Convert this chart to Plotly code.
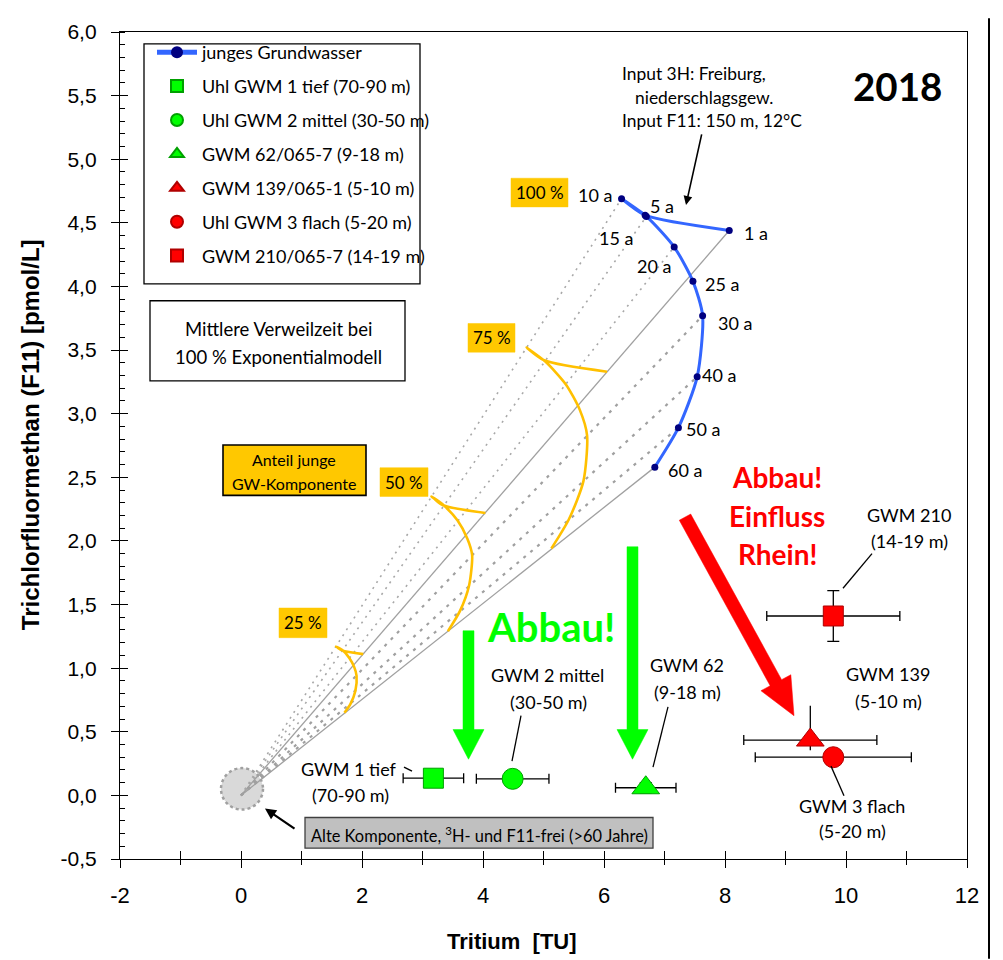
import plotly.graph_objects as go

# ---------------- data ----------------
ages = ["1 a", "5 a", "10 a", "15 a", "20 a", "25 a", "30 a", "40 a", "50 a", "60 a"]
young_tritium = [8.07, 6.68, 6.29, 6.70, 7.16, 7.47, 7.63, 7.54, 7.23, 6.84]
young_f11 = [4.44, 4.56, 4.69, 4.55, 4.31, 4.04, 3.77, 3.29, 2.89, 2.58]

mix75_tritium = [6.05, 5.01, 4.72, 5.03, 5.37, 5.60, 5.72, 5.66, 5.42, 5.13]
mix75_f11 = [3.33, 3.42, 3.52, 3.41, 3.23, 3.03, 2.83, 2.47, 2.17, 1.94]
mix50_tritium = [4.04, 3.34, 3.15, 3.35, 3.58, 3.74, 3.82, 3.77, 3.62, 3.42]
mix50_f11 = [2.22, 2.28, 2.35, 2.28, 2.16, 2.02, 1.89, 1.65, 1.45, 1.29]
mix25_tritium = [2.02, 1.67, 1.57, 1.68, 1.79, 1.87, 1.91, 1.89, 1.81, 1.71]
mix25_f11 = [1.11, 1.14, 1.17, 1.14, 1.08, 1.01, 0.94, 0.82, 0.72, 0.65]

old_tritium = 0.0
old_f11 = 0.0

sample_names = ["Uhl GWM 1 tief (70-90 m)", "Uhl GWM 2 mittel (30-50 m)",
                "GWM 62/065-7 (9-18 m)", "GWM 139/065-1 (5-10 m)",
                "Uhl GWM 3 flach (5-20 m)", "GWM 210/065-7 (14-19 m)"]
sample_tritium = [3.18, 4.49, 6.69, 9.41, 9.79, 9.79]
sample_f11 = [0.135, 0.13, 0.06, 0.435, 0.30, 1.41]
sample_tritium_err = [0.50, 0.60, 0.50, 1.10, 1.29, 1.10]
sample_f11_err_plus = [0.0, 0.0, 0.04, 0.27, 0.0, 0.20]
sample_f11_err_minus = [0.0, 0.0, 0.04, 0.08, 0.0, 0.20]
sample_symbols = ["square", "circle", "triangle-up", "triangle-up", "circle", "square"]
sample_fill = ["#00FF00", "#00FF00", "#00FF00", "#FF0000", "#FF0000", "#FF0000"]
sample_edge = ["#00A000", "#00A000", "#00A000", "#B00000", "#B00000", "#B00000"]
sample_size = [20, 21, 24, 24, 21, 20]

x_tickvals = [-2, 0, 2, 4, 6, 8, 10, 12]
x_ticktext = ["-2", "0", "2", "4", "6", "8", "10", "12"]
y_tickvals = [-0.5, 0.0, 0.5, 1.0, 1.5, 2.0, 2.5, 3.0, 3.5, 4.0, 4.5, 5.0, 5.5, 6.0]
y_ticktext = ["-0,5", "0,0", "0,5", "1,0", "1,5", "2,0", "2,5", "3,0", "3,5",
              "4,0", "4,5", "5,0", "5,5", "6,0"]

# ---------------- geometry helpers (page pixel -> data, for annotations) ----------------
OFF = 8                     # default body margin of the html page
W, H = 1003 - OFF, 960 - OFF
PL, PR, PT, PB = 120, 967, 22, 859   # plot area in page pixels
XR = (-2, 12)
YR = (-0.5, 6.0)


def X(px):
    return XR[0] + (px - PL) / (PR - PL) * (XR[1] - XR[0])


def Y(py):
    return YR[1] - (py - PT) / (PB - PT) * (YR[1] - YR[0])


def PX(px):
    return (px - PL) / (PR - PL)


def PY(py):
    return (PB - py) / (PB - PT)


TXT = "Lato, Carlito, Calibri, sans-serif"
NARROW = "Liberation Sans Narrow, Arial Narrow, Liberation Sans, Arial"
fig = go.Figure()

# mixing lines old -> young
solid_idx = [0, 9]
dot_idx = [2, 3, 4]
dash_idx = [6, 7, 8]
for i in solid_idx:
    fig.add_trace(go.Scatter(x=[old_tritium, young_tritium[i]], y=[old_f11, young_f11[i]],
                             mode="lines", line=dict(color="#A0A0A0", width=1.3),
                             showlegend=False, hoverinfo="skip"))
for i in dot_idx:
    fig.add_trace(go.Scatter(x=[old_tritium, young_tritium[i]], y=[old_f11, young_f11[i]],
                             mode="lines", line=dict(color="#A8A8A8", width=1.6, dash="2px,5px"),
                             showlegend=False, hoverinfo="skip"))
for i in dash_idx:
    fig.add_trace(go.Scatter(x=[old_tritium, young_tritium[i]], y=[old_f11, young_f11[i]],
                             mode="lines", line=dict(color="#A0A0A0", width=2.2, dash="3px,6px"),
                             showlegend=False, hoverinfo="skip"))

# mixing curves
for mx, my in [(mix25_tritium, mix25_f11), (mix50_tritium, mix50_f11), (mix75_tritium, mix75_f11)]:
    fig.add_trace(go.Scatter(x=mx, y=my, mode="lines",
                             line=dict(color="#FFC000", width=2.6, shape="spline", smoothing=0.7),
                             showlegend=False, hoverinfo="skip"))

# young groundwater curve
fig.add_trace(go.Scatter(x=young_tritium, y=young_f11, mode="lines+markers",
                         name="junges Grundwasser", legendgroup="g0",
                         line=dict(color="#3366FF", width=3, shape="spline", smoothing=0.7),
                         marker=dict(color="#000080", size=7)))

# samples
for k in range(len(sample_names)):
    has_y = sample_f11_err_plus[k] > 0
    fig.add_trace(go.Scatter(
        x=[sample_tritium[k]], y=[sample_f11[k]], mode="markers",
        name=sample_names[k], legendgroup="g%d" % (k + 1),
        marker=dict(symbol=sample_symbols[k], size=sample_size[k], color=sample_fill[k],
                    line=dict(color=sample_edge[k], width=1)),
        error_x=dict(type="data", array=[sample_tritium_err[k]], color="black",
                     thickness=1.3, width=5),
        error_y=dict(type="data", symmetric=False, array=[sample_f11_err_plus[k]],
                     arrayminus=[sample_f11_err_minus[k]], color="black",
                     thickness=1.3, width=0 if k == 3 else 6, visible=has_y),
    ))

# empty trace on overlay axes (inside "cross" ticks)
fig.add_trace(go.Scatter(x=[], y=[], xaxis="x2", yaxis="y2", showlegend=False, hoverinfo="skip"))

shapes = []
annotations = []


def rect(x0, y0, x1, y1, fill="rgba(0,0,0,0)", line="black", lw=1.3, layer="above"):
    shapes.append(dict(type="rect", xref="x", yref="y", x0=X(x0), x1=X(x1), y0=Y(y0), y1=Y(y1),
                       fillcolor=fill, line=dict(color=line, width=lw), layer=layer))


def seg(x0, y0, x1, y1, color="black", lw=1.3):
    shapes.append(dict(type="line", xref="x", yref="y", x0=X(x0), x1=X(x1), y0=Y(y0), y1=Y(y1),
                       line=dict(color=color, width=lw)))


def text(t, px, py, size=18, color="black", bold=False, xanchor="center", family=TXT):
    if bold:
        t = "<b>" + t + "</b>"
    annotations.append(dict(text=t, x=X(px), y=Y(py), xref="x", yref="y", showarrow=False,
                            xanchor=xanchor, yanchor="middle",
                            font=dict(family=family, size=size, color=color)))


def arrow_poly(tx, ty, hx, hy, shaft_hw, head_hw, head_len, color):
    dxp, dyp = hx - tx, hy - ty
    ln = (dxp ** 2 + dyp ** 2) ** 0.5
    ux, uy = dxp / ln, dyp / ln
    nx, ny = -uy, ux
    bx, by = hx - ux * head_len, hy - uy * head_len
    pts = [(tx + nx * shaft_hw, ty + ny * shaft_hw),
           (bx + nx * shaft_hw, by + ny * shaft_hw),
           (bx + nx * head_hw, by + ny * head_hw),
           (hx, hy),
           (bx - nx * head_hw, by - ny * head_hw),
           (bx - nx * shaft_hw, by - ny * shaft_hw),
           (tx - nx * shaft_hw, ty - ny * shaft_hw)]
    path = "M " + " L ".join("%.5f,%.5f" % (X(a), Y(b)) for a, b in pts) + " Z"
    shapes.append(dict(type="path", xref="x", yref="y", path=path, fillcolor=color,
                       line=dict(color=color, width=0.5), layer="above"))


# old component circle
shapes.append(dict(type="circle", xref="x", yref="y", x0=X(221), x1=X(263), y0=Y(809), y1=Y(767),
                   fillcolor="#D9D9D9", line=dict(color="#A0A0A0", width=2.5, dash="dot"),
                   layer="below"))

# legend frame
rect(144, 34, 420, 277)

# boxes
rect(150, 294, 405, 375)
text("Mittlere Verweilzeit bei", 278, 323, size=18.5)
text("100 % Exponentialmodell", 278, 351, size=18.5)

rect(223, 440, 366, 491, fill="#FFC800", line="black", lw=1.6)
text("Anteil junge", 294, 455, size=16)
text("GW-Komponente", 294, 479, size=16)

for lab, x0, y0, x1, y1 in [("100 %", 511, 170, 568, 199), ("75 %", 468, 317, 515, 346),
                            ("50 %", 380, 463, 428, 492), ("25 %", 279, 605, 327, 635)]:
    rect(x0, y0, x1, y1, fill="#FFC800", line="#FFC800", lw=0.5)
    text(lab, (x0 + x1) / 2, (y0 + y1) / 2, size=17)

rect(305, 817, 653, 848, fill="#C0C0C0", line="#404040", lw=1.3)
text("Alte Komponente, <sup>3</sup>H- und F11-frei (>60 Jahre)", 479, 834, size=16.4)

# age labels
age_pos = {"10 a": (595, 187), "5 a": (662, 198), "1 a": (756, 225), "15 a": (616, 230),
           "20 a": (654, 259), "25 a": (722, 277), "30 a": (735, 317), "40 a": (719, 369),
           "50 a": (703, 424), "60 a": (685, 465)}
for lab, (px, py) in age_pos.items():
    text(lab, px, py, size=18)

# input text
text("Input 3H: Freiburg,", 620, 64, size=17.4, xanchor="left")
text("niederschlagsgew.", 633, 88, size=17.4, xanchor="left")
text("Input F11: 150 m, 12°C", 620, 112, size=17.4, xanchor="left")
annotations.append(dict(x=X(686), y=Y(197), xref="x", yref="y", ax=16, ay=-72, text="",
                        showarrow=True, arrowhead=2, arrowsize=1.1, arrowwidth=1.6,
                        arrowcolor="black"))

text("2018", 897, 77, size=38.5, bold=True)

# sample labels
text("GWM 1 tief", 349, 768)
text("(70-90 m)", 350, 794)
seg(404, 766, 412, 770)
text("GWM 2 mittel", 547, 673)
text("(30-50 m)", 548, 700)
seg(521, 714, 512, 760)
text("GWM 62", 687, 663)
text("(9-18 m)", 687, 690)
seg(668, 705, 653, 766)
text("GWM 139", 888, 672)
text("(5-10 m)", 888, 699)
text("GWM 3 flach", 852, 805)
text("(5-20 m)", 852, 831)
seg(831, 765, 844, 795)
text("GWM 210", 909, 511)
text("(14-19 m)", 909, 537)
seg(872, 550, 843, 585)

# Abbau texts
text("Abbau!", 551, 624, size=40, color="#00FF00", bold=True)
text("Abbau!", 777, 472, size=28, color="#FF0000", bold=True)
text("Einfluss", 777, 512, size=28, color="#FF0000", bold=True)
text("Rhein!", 777, 550, size=28, color="#FF0000", bold=True)

# thick arrows
arrow_poly(468.5, 628, 468.5, 758, 5.5, 15.5, 30, "#00FF00")
arrow_poly(632.5, 543, 632.5, 758, 5.5, 15.5, 30, "#00FF00")
arrow_poly(685, 513, 794, 714, 6.5, 17, 38, "#FF0000")

# arrow to old component
annotations.append(dict(x=X(265), y=Y(808), xref="x", yref="y", ax=31, ay=21, text="",
                        showarrow=True, arrowhead=2, arrowsize=1.0, arrowwidth=2.2,
                        arrowcolor="black"))

# axis titles (paper coords)
annotations.append(dict(text="<b>Tritium  [TU]</b>", x=PX(512), y=PY(942), xref="paper", yref="paper",
                        showarrow=False, xanchor="center", yanchor="middle",
                        font=dict(family=NARROW, size=22, color="black")))
annotations.append(dict(text="<b>Trichlorfluormethan (F11) [pmol/L]</b>", x=PX(30), y=PY(430),
                        xref="paper", yref="paper", showarrow=False, textangle=-90,
                        xanchor="center", yanchor="middle",
                        font=dict(family=NARROW, size=24, color="black")))

# outer frame line at right
shapes.append(dict(type="line", xref="paper", yref="paper", x0=PX(989), x1=PX(989),
                   y0=PY(960), y1=PY(OFF), line=dict(color="black", width=2)))

fig.update_layout(
    width=W, height=H,
    margin=dict(l=PL - OFF, r=W + OFF - PR, t=PT - OFF, b=H + OFF - PB),
    plot_bgcolor="white", paper_bgcolor="white",
    shapes=shapes, annotations=annotations,
    showlegend=True,
    legend=dict(x=PX(152), y=PY(24), xanchor="left", yanchor="top",
                bgcolor="rgba(0,0,0,0)", borderwidth=0, font=dict(family=TXT, size=18, color="black"),
                itemsizing="constant", itemwidth=40, tracegroupgap=7.5, traceorder="grouped"),
    xaxis2=dict(overlaying="x", anchor="y", side="bottom", range=list(XR),
                tickmode="linear", tick0=-2, dtick=1, ticks="inside", ticklen=8,
                tickcolor="black", tickwidth=1.2, showticklabels=False, showgrid=False,
                zeroline=False, showline=False),
    yaxis2=dict(overlaying="y", anchor="x", side="left", range=list(YR),
                tickmode="linear", tick0=-0.5, dtick=0.5, ticks="inside", ticklen=8,
                tickcolor="black", tickwidth=1.3, showticklabels=False, showgrid=False,
                zeroline=False, showline=False),
)
fig.layout.xaxis.update(range=list(XR), tickmode="array", tickvals=x_tickvals, ticktext=x_ticktext,
                        showgrid=False, zeroline=False, showline=True, linecolor="black", linewidth=1.3,
                        mirror=True, ticks="outside", ticklen=8, tickcolor="black", tickwidth=1.3,
                        ticklabelstandoff=8,
                        tickfont=dict(family=NARROW, size=22, color="black"),
                        minor=dict(tickmode="linear", tick0=-1, dtick=2, ticks="outside", ticklen=5,
                                   tickcolor="black", tickwidth=1.2))
fig.layout.yaxis.update(range=list(YR), tickmode="array", tickvals=y_tickvals, ticktext=y_ticktext,
                        showgrid=False, zeroline=False, showline=True, linecolor="black", linewidth=1.3,
                        mirror=True, ticks="outside", ticklen=8, tickcolor="black", tickwidth=1.3,
                        ticklabelstandoff=10,
                        tickfont=dict(family="Liberation Sans, Arial", size=21, color="black"),
                        minor=dict(tickmode="linear", tick0=-0.5, dtick=0.1, ticks="inside", ticklen=5,
                                   tickcolor="black", tickwidth=1.2))

fig.write_html("out.html")
